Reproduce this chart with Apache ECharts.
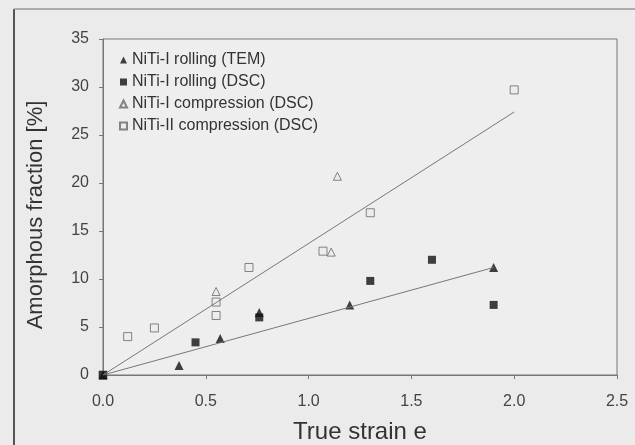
<!DOCTYPE html>
<html>
<head>
<meta charset="utf-8">
<script src="https://cdn.jsdelivr.net/npm/echarts@6/dist/echarts.min.js"></script>
<style>
  html, body { margin: 0; padding: 0; background: #ebebeb; }
  #chart { width: 635px; height: 445px; }
</style>
</head>
<body>
<div id="chart"></div>
<script>
// data: [true strain, amorphous fraction %]
var rollingTEM = [[0, 0], [0.37, 1.0], [0.57, 3.8], [0.76, 6.5], [1.2, 7.3], [1.9, 11.2]];
var rollingDSC = [[0, 0], [0.45, 3.4], [0.76, 6.0], [1.3, 9.8], [1.6, 12.0], [1.9, 7.3]];
var compressionI = [[0, 0], [0.55, 8.7], [1.11, 12.8], [1.14, 20.7]];
var compressionII = [[0, 0], [0.12, 4.0], [0.25, 4.9], [0.55, 6.2], [0.55, 7.6], [0.71, 11.2], [1.07, 12.9], [1.3, 16.9], [2.0, 29.7]];
// fitted lines
var fitCompression = [[0, 0], [2.0, 27.4]];
var fitRolling = [[0, 0], [1.9, 11.2]];

var names = ['NiTi-I rolling (TEM)', 'NiTi-I rolling (DSC)', 'NiTi-I compression (DSC)', 'NiTi-II compression (DSC)'];

var chart = echarts.init(document.getElementById('chart'));
var openStyle = { color: '#ececec', borderColor: '#666', borderWidth: 1 };
var fillStyle = { color: '#111' };
var font = 'Liberation Sans';

chart.setOption({
    backgroundColor: '#ebebeb',
    animation: false,
    graphic: [
        { type: 'line', shape: { x1: 14, y1: 9, x2: 14, y2: 445 }, style: { stroke: '#555', lineWidth: 2 } },
        { type: 'line', shape: { x1: 14, y1: 9, x2: 635, y2: 9 }, style: { stroke: '#999', lineWidth: 1.5 } }
    ],
    grid: {
        left: 103, right: 18, top: 39, bottom: 70,
        outerBoundsMode: 'none', containLabel: false,
        show: true, borderColor: '#777', borderWidth: 1, backgroundColor: '#eeeeee'
    },
    legend: {
        orient: 'vertical',
        left: 114, top: 47,
        itemWidth: 7, itemHeight: 7, itemGap: 6,
        textStyle: { fontFamily: font, fontSize: 16, color: '#333' },
        data: names
    },
    xAxis: {
        type: 'value', min: 0, max: 2.5, interval: 0.5,
        name: 'True strain e', nameLocation: 'middle', nameGap: 45,
        nameTextStyle: { fontFamily: font, fontSize: 24, color: '#333' },
        axisLine: { lineStyle: { color: '#777' } },
        axisTick: { length: 4, lineStyle: { color: '#777' } },
        axisLabel: { fontFamily: font, fontSize: 16, color: '#444', margin: 19,
            formatter: function (v) { return v.toFixed(1); } },
        splitLine: { show: false }
    },
    yAxis: {
        type: 'value', min: 0, max: 35, interval: 5,
        name: 'Amorphous fraction [%]', nameLocation: 'middle', nameGap: 56,
        nameTextStyle: { fontFamily: font, fontSize: 22, color: '#333', padding: [0, 16, 0, 0] },
        axisLine: { show: true, lineStyle: { color: '#777' } },
        axisTick: { show: true, length: 4, lineStyle: { color: '#777' } },
        axisLabel: { fontFamily: font, fontSize: 16, color: '#444', margin: 14 },
        splitLine: { show: false }
    },
    series: [
        { type: 'line', data: fitCompression, symbol: 'none', silent: true,
          lineStyle: { color: '#777', width: 1 } },
        { type: 'line', data: fitRolling, symbol: 'none', silent: true,
          lineStyle: { color: '#777', width: 1 } },
        { name: names[2], type: 'scatter', data: compressionI, symbol: 'triangle', symbolSize: 8, itemStyle: openStyle },
        { name: names[3], type: 'scatter', data: compressionII, symbol: 'rect', symbolSize: 8, itemStyle: openStyle },
        { name: names[1], type: 'scatter', data: rollingDSC, symbol: 'rect', symbolSize: 8, itemStyle: fillStyle },
        { name: names[0], type: 'scatter', data: rollingTEM, symbol: 'triangle', symbolSize: 9, itemStyle: fillStyle }
    ]
});
</script>
</body>
</html>
